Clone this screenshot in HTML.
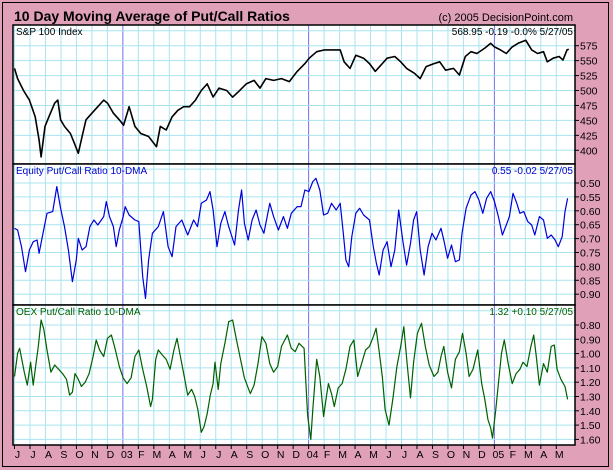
<!DOCTYPE html>
<html><head><meta charset="utf-8"><style>
body{margin:0;background:#fff}
svg{display:block;font-family:"Liberation Sans",sans-serif}
</style></head><body>
<svg id="c" width="613" height="470"></svg>
<script>
const spxMonths=[0,.2,.58,.96,1.34,1.59,1.72,1.97,2.22,2.6,2.8,2.98,3.23,3.61,3.86,4.12,4.37,4.62,5.0,5.38,5.76,6.01,6.39,6.77,7.05,7.4,7.78,8.16,8.66,9.17,9.42,9.8,10.18,10.56,10.93,11.31,11.69,12.07,12.45,12.83,13.21,13.71,14.09,14.47,14.97,15.48,15.86,16.24,16.74,17.25,17.75,18.26,18.76,19.04,19.52,20.03,20.53,21.04,21.29,21.67,22.05,22.55,22.93,23.31,23.69,24.07,24.57,24.95,25.33,25.83,26.21,26.59,27.1,27.47,27.85,28.36,28.74,29.12,29.49,29.87,30.38,30.76,31.01,31.39,31.77,32.15,32.53,33.03,33.41,33.79,34.17,34.42,34.8,35.18,35.43,35.69,35.81];
const spxValues=[537,520,500,484,456,417,389,440,456,479,484,451,440,428,412,395,423,451,462,473,484,479,462,451,442,473,440,428,423,406,440,434,456,467,473,473,484,500,511,489,504,500,489,498,511,517,504,520,517,520,515,532,545,554,565,568,568,568,548,537,559,554,545,532,543,554,557,548,537,529,520,540,545,548,534,537,526,557,565,562,571,579,573,568,562,573,579,584,568,562,565,548,554,557,551,568,569];
const eqMonths=[0,.2,.45,.71,.96,1.21,1.46,1.59,1.84,2.1,2.47,2.73,2.98,3.23,3.48,3.74,3.99,4.12,4.37,4.62,4.87,5.13,5.38,5.76,5.93,6.14,6.39,6.57,6.77,7.02,7.15,7.4,7.78,8.03,8.28,8.46,8.66,8.91,9.29,9.62,9.92,10.18,10.43,10.81,11.19,11.57,11.82,12.07,12.4,12.63,12.83,13.08,13.33,13.59,13.84,14.22,14.47,14.67,14.85,15.1,15.35,15.61,15.86,16.11,16.49,16.74,17.05,17.37,17.63,17.88,18.26,18.51,18.76,19.02,19.27,19.47,19.72,19.97,20.23,20.48,20.78,21.04,21.24,21.41,21.59,21.79,22.05,22.3,22.55,22.93,23.18,23.38,23.56,23.81,24.07,24.32,24.57,24.82,25.08,25.33,25.58,25.78,25.98,26.21,26.46,26.72,26.97,27.22,27.55,27.73,27.98,28.23,28.48,28.74,28.91,29.17,29.49,29.75,30,30.25,30.5,30.76,31.01,31.26,31.52,31.77,31.97,32.2,32.45,32.65,32.9,33.16,33.41,33.61,33.91,34.17,34.42,34.67,34.92,35.13,35.38,35.56,35.73];
const eqValues=[.663,.669,.729,.819,.741,.711,.705,.753,.681,.609,.603,.513,.591,.657,.741,.855,.777,.699,.741,.729,.657,.633,.651,.621,.567,.621,.657,.729,.669,.621,.585,.615,.633,.639,.837,.915,.777,.681,.657,.603,.729,.765,.657,.633,.687,.633,.657,.573,.561,.531,.597,.729,.645,.603,.657,.723,.597,.525,.645,.705,.633,.597,.651,.681,.573,.621,.669,.621,.663,.609,.585,.585,.525,.531,.495,.483,.525,.615,.609,.573,.597,.573,.681,.777,.801,.693,.609,.591,.615,.633,.729,.789,.831,.741,.711,.801,.741,.597,.705,.795,.717,.633,.603,.741,.831,.729,.681,.705,.663,.705,.771,.723,.783,.777,.681,.591,.543,.531,.561,.609,.555,.531,.567,.621,.687,.651,.621,.537,.573,.609,.603,.639,.651,.687,.621,.633,.699,.687,.705,.729,.693,.603,.555];
const oexMonths=[0,.2,.33,.45,.63,.83,1.04,1.21,1.39,1.54,1.72,1.89,2.1,2.35,2.6,2.85,3.11,3.36,3.56,3.74,3.91,4.12,4.32,4.57,4.82,5.08,5.28,5.5,5.76,6.01,6.26,6.52,6.77,7.02,7.27,7.53,7.78,8.03,8.28,8.54,8.79,8.91,9.12,9.29,9.55,9.8,10.05,10.3,10.5,10.68,10.93,11.19,11.44,11.64,11.84,12.07,12.25,12.45,12.65,12.83,12.95,13.16,13.33,13.59,13.84,14.09,14.34,14.6,14.85,15.23,15.48,15.73,15.98,16.24,16.49,16.74,17,17.25,17.63,17.88,18.13,18.38,18.71,18.81,18.94,19.14,19.27,19.52,19.72,19.97,20.15,20.28,20.48,20.66,20.91,21.16,21.41,21.67,21.92,22.17,22.42,22.68,22.93,23.18,23.36,23.56,23.76,23.94,24.19,24.44,24.7,24.95,25.15,25.38,25.58,25.78,26.03,26.29,26.54,26.79,27.1,27.35,27.55,27.73,27.98,28.23,28.48,28.74,28.94,29.17,29.37,29.62,29.92,30.18,30.38,30.58,30.76,30.88,31.09,31.26,31.46,31.64,31.89,32.15,32.4,32.65,32.85,33.11,33.36,33.54,33.71,33.91,34.17,34.42,34.67,34.87,35.05,35.3,35.56,35.73];
const oexValues=[1.16,.998,.963,1.03,1.13,1.22,1.06,1.22,1.07,.95,.765,.83,.975,1.13,1.08,1.11,1.14,1.18,1.29,1.27,1.14,1.18,1.23,1.20,1.14,1.02,.905,.975,1.02,.893,.87,.975,1.09,1.17,1.21,1.17,1.02,.975,1.11,1.23,1.37,1.32,1.04,.975,1.01,1.04,1.11,.975,.893,.998,1.14,1.29,1.25,1.30,1.39,1.55,1.51,1.42,1.29,1.21,1.06,1.25,1.07,.928,.777,.765,.905,1.04,1.17,1.28,1.22,1.07,.882,.928,1.07,1.13,1.09,.95,.87,.963,.987,.928,.963,1.18,1.44,1.60,1.39,1.04,1.16,1.44,1.30,1.21,1.28,1.37,1.24,1.21,1.11,.95,.905,1.16,1.07,.975,.95,.882,.823,.987,1.16,1.39,1.50,1.32,1.09,.95,.812,1.09,1.31,1.06,.858,.788,.95,1.08,1.16,1.13,1.02,.95,1.13,1.24,1.04,.987,.858,.998,1.16,1.11,.975,1.21,1.32,1.46,1.52,1.59,1.39,1.21,.998,.905,1.07,1.21,1.14,1.11,1.06,1.09,.95,.87,1.02,1.22,1.07,1.13,.95,.94,1.11,1.18,1.23,1.32];
const monthLabels=["J","J","A","S","O","N","D","03","F","M","A","M","J","J","A","S","O","N","D","04","F","M","A","M","J","J","A","S","O","N","D","05","F","M","A","M"];
const spxTicks=[575,550,525,500,475,450,425,400];
const eqTicks=[0.50,0.55,0.60,0.65,0.70,0.75,0.80,0.85,0.90];
const oexTicks=[0.80,0.90,1.00,1.10,1.20,1.30,1.40,1.50,1.60];

const NS="http://www.w3.org/2000/svg";
const svg=document.getElementById('c');
function el(t,a,p){const e=document.createElementNS(NS,t);for(const k in a)e.setAttribute(k,a[k]);(p||svg).appendChild(e);return e;}
const L=13,R=575;
const X=m=>14.5+m*15.48;
const ySpx=v=>45.7+(575-v)*14.94/25;
const yEq=v=>183+(v-0.5)/0.05*13.9;
const yOex=v=>325+(v-0.8)/0.1*14.3;

let r=el('rect',{x:0,y:0,width:613,height:470,fill:'#E0A0B8'});

r=el('rect',{x:2.5,y:2.5,width:606,height:464,fill:'none',stroke:'#000'});

let t=el('text',{x:14,y:21,'font-size':14,'font-weight':'bold',fill:'#000'});t.textContent='10 Day Moving Average of Put/Call Ratios';

t=el('text',{x:573,y:21,'font-size':11,'text-anchor':'end',fill:'#000'});t.textContent='(c) 2005 DecisionPoint.com';


const panels=[
 {name:'spx',top:25,bot:164,ticks:spxTicks,y:ySpx,fmt:v=>v,grid:[600,575,550,525,500,475,450,425,400,375],months:spxMonths,vals:spxValues,color:'#000',title:'S&P 100 Index',tc:'#000',info:'568.95  -0.19  -0.0%  5/27/05'},
 {name:'equity',top:164,bot:305,ticks:eqTicks,y:yEq,fmt:v=>v.toFixed(2),grid:[0.45,0.5,0.55,0.6,0.65,0.7,0.75,0.8,0.85,0.9,0.95],months:eqMonths,vals:eqValues,color:'#0000dd',title:'Equity Put/Call Ratio 10-DMA',tc:'#0000cc',info:'0.55  -0.02  5/27/05'},
 {name:'oex',top:305,bot:445,ticks:oexTicks,y:yOex,fmt:v=>v.toFixed(2),grid:[0.7,0.8,0.9,1,1.1,1.2,1.3,1.4,1.5,1.6],months:oexMonths,vals:oexValues,color:'#006000',title:'OEX Put/Call Ratio 10-DMA',tc:'#006000',info:'1.32  +0.10  5/27/05'}
];
panels.forEach(p=>{
 const g=el('g',{});
 
 el('rect',{x:L,y:p.top,width:R-L,height:p.bot-p.top,fill:'#fff'},g);
 const clip=el('clipPath',{id:'clip-'+p.name},g);el('rect',{x:L,y:p.top,width:R-L,height:p.bot-p.top},clip);
 const gg=el('g',{'clip-path':'url(#clip-'+p.name+')'},g);
 
 for(let m=0;m<36;m++){const x=X(m);const yr=(m===7||m===19||m===31);
  el('line',{x1:x,x2:x,y1:p.top,y2:p.bot,stroke:yr?'#7070ee':'#a8e4f0','stroke-width':1},gg);}
 p.grid.forEach(v=>{const y=p.y(v);el('line',{x1:L,x2:R,y1:y,y2:y,stroke:'#a8e4f0'},gg);});
 let d='';p.months.forEach((m,i)=>{d+=(i?'L':'M')+X(m).toFixed(1)+','+p.y(p.vals[i]).toFixed(1);});
 const ln=el('path',{d:d,fill:'none',stroke:p.color,'stroke-width':p.name==='spx'?1.6:1.2,'stroke-linejoin':'round'},gg);
 
 el('rect',{x:L,y:p.top,width:R-L,height:p.bot-p.top,fill:'none',stroke:'#000','stroke-width':1.5},g);
 let tt=el('text',{x:L+3,y:p.top+10,'font-size':10,fill:p.tc},g);tt.textContent=p.title;
 
 tt=el('text',{x:R-2,y:p.top+10,'font-size':10,'text-anchor':'end',fill:p.tc,'xml:space':'preserve'},g);tt.textContent=p.info;
 
 p.ticks.forEach(v=>{const y=p.y(v);
  el('line',{x1:R,x2:R+4,y1:y,y2:y,stroke:'#000'},g);
  const tk=el('text',{x:R+5,y:y+4,'font-size':10.5,fill:'#000'},g);tk.textContent=p.fmt(v);
  });
});
const xa=el('g',{});

monthLabels.forEach((s,i)=>{const x=X(i);
 el('line',{x1:x,x2:x,y1:445,y2:449,stroke:'#000'},xa);
 const tx=el('text',{x:x+ (s.length>1?4:3),y:458,'font-size':10.5,'text-anchor':'middle',fill:'#000'},xa);tx.textContent=s;
 });
</script>
</body></html>
